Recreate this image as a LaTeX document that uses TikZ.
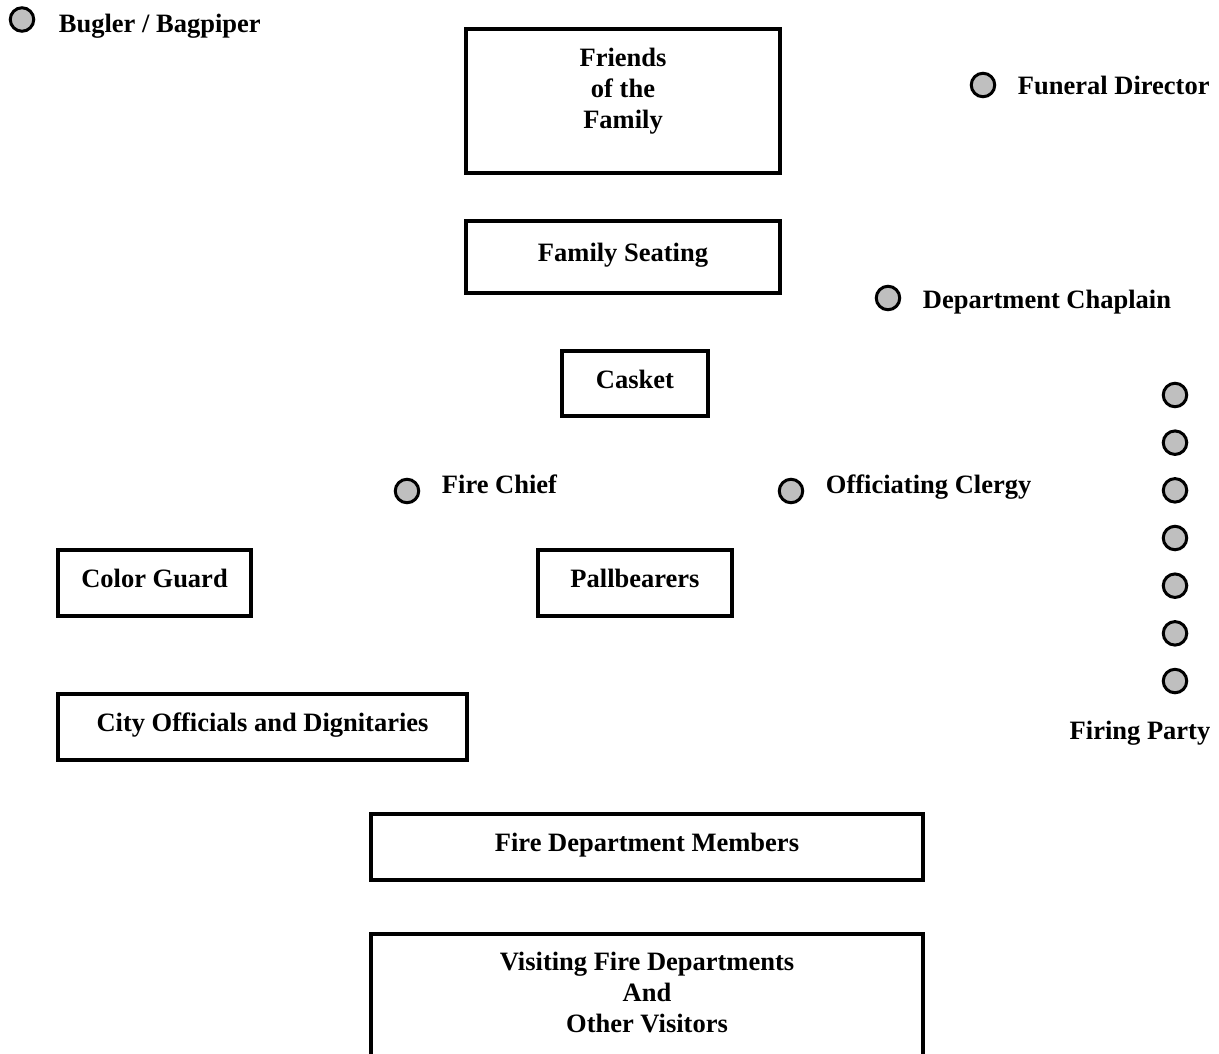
\documentclass[tikz,border=0pt]{standalone}
\usepackage{fontspec}
\setmainfont{Liberation Serif}
\usetikzlibrary{positioning}

\begin{document}
\begin{tikzpicture}[x=1pt,y=-1pt,node distance=23pt,
    font=\fontsize{26.5}{31}\selectfont\bfseries]
  \tikzset{
    area/.style={draw, line width=3.2pt, outer sep=0pt, inner sep=0pt,
                 text height=18pt, text depth=9pt},
    lines/.style={inner sep=0pt, align=center},
    seat/.style={circle, draw, line width=3pt, fill=gray!50,
                 minimum size=23.5pt, inner sep=0pt, outer sep=0pt},
    who/.style={inner sep=0pt, text height=18pt, text depth=0pt}
  }
  \clip (0,0) rectangle (1219,1053);

  % seating blocks
  \node[area, minimum width=314pt, minimum height=144pt] (friends)  at (623,101)  {};
  \node[lines, below=19pt of friends.north]               (friendsT) {Friends\\of the\\Family};
  \node[area, minimum width=314pt, minimum height=72pt]  (seating)  at (623,257)  {Family Seating};
  \node[area, minimum width=146pt, minimum height=65pt]  (casket)   at (635,383.5) {Casket};
  \node[area, minimum width=193pt, minimum height=66pt]  (guard)    at (154.5,583) {Color Guard};
  \node[area, minimum width=194pt, minimum height=66pt]  (pall)     at (635,583)  {Pallbearers};
  \node[area, minimum width=409pt, minimum height=66pt]  (city)     at (262.5,727) {City Officials and Dignitaries};
  \node[area, minimum width=552pt, minimum height=66pt]  (members)  at (647,847)  {Fire Department Members};
  \node[area, minimum width=552pt, minimum height=170pt] (visitors) at (647,1019) {};
  \node[lines, below=18pt of visitors.north]              (visitorsT) {Visiting Fire Departments\\And\\Other Visitors};

  % people
  \node[seat] (bugler)    at (22,19.5) {};
  \node[seat] (director)  at (983,85)  {};
  \node[seat] (chaplain)  at (888,298) {};
  \node[seat] (chief)     at (407,491) {};
  \node[seat] (clergy)    at (791,491) {};
  \node[who, right=25pt of bugler, yshift=-4pt]   (buglerT)   {Bugler / Bagpiper};
  \node[who, right=of director]                   (directorT) {Funeral Director};
  \node[who, right=of chaplain, yshift=-1pt]      (chaplainT) {Department Chaplain};
  \node[who, right=of chief, yshift=6.5pt]        (chiefT)    {Fire Chief};
  \node[who, right=of clergy, yshift=6.5pt]       (clergyT)   {Officiating Clergy};

  \foreach \i in {0,...,6}
    \node[seat] (shot\i) at (1175,395+47.67*\i) {};
  \node[anchor=base, inner sep=0pt] (firingT) at (1140,739) {Firing Party};
\end{tikzpicture}
\end{document}
